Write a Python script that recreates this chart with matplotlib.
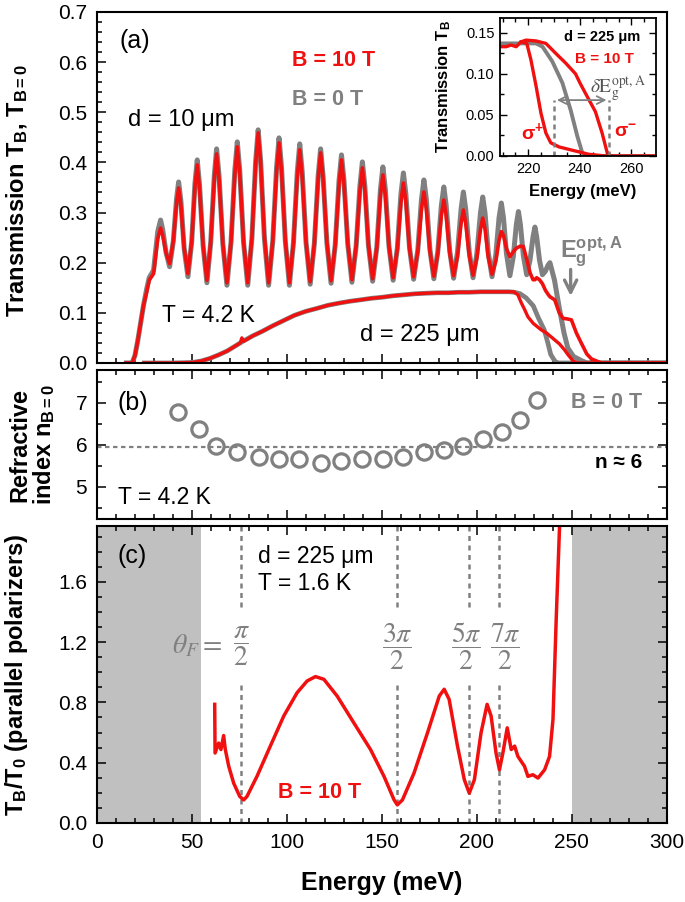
import numpy as np
import matplotlib
matplotlib.use('Agg')
import matplotlib.pyplot as plt
from matplotlib.ticker import MultipleLocator, FormatStrFormatter

plt.rcParams['font.family'] = ['Liberation Sans', 'DejaVu Sans']
plt.rcParams['mathtext.fontset'] = 'custom'
plt.rcParams['mathtext.rm'] = 'Liberation Sans'
plt.rcParams['mathtext.it'] = 'Liberation Sans:italic'
plt.rcParams['mathtext.bf'] = 'Liberation Sans:bold'

RED = '#f01010'
GREY = '#808080'
SHADE = '#c0c0c0'

# ---- (a) d = 10 um, Fabry-Perot fringes (energy in meV), one row per fringe ----
thin_e = [15.5, 18.5, 20.0, 21.5, 23.0, 24.5, 26.2, 27.5, 29.8, 32.0,
          33.5, 34.6, 36.4, 38.25, 40.2, 41.9,
          43.0, 44.2, 45.9, 47.9, 49.9, 51.6,
          52.8, 54.0, 55.9, 57.9, 59.9, 61.8,
          63.0, 64.3, 66.3, 68.45, 70.6, 72.6,
          73.9, 75.2, 77.2, 79.4, 81.6, 83.6,
          84.9, 86.2, 88.2, 90.4, 92.6, 94.6,
          95.9, 97.2, 99.2, 101.35, 103.5, 105.5,
          106.8, 108.1, 110.1, 112.3, 114.5, 116.5,
          117.8, 119.1, 121.1, 123.3, 125.5, 127.5,
          128.8, 130.1, 132.1, 134.3, 136.5, 138.5,
          139.8, 141.1, 143.0, 145.2, 147.4, 149.3,
          150.6, 151.9, 153.8, 156.0, 158.2, 160.1,
          161.4, 162.7, 164.6, 166.8, 169.0, 170.9,
          172.2, 173.5, 175.35, 177.45, 179.55, 181.4,
          182.7, 183.9, 185.8, 187.85, 189.9, 191.8,
          193.0, 194.2, 196.1, 198.1, 200.1, 202.0,
          203.2, 204.4, 206.1, 208.1, 210.1, 211.8,
          213.0, 214.1, 215.7, 217.5, 219.3, 220.9,
          222.0, 223.0, 224.6, 226.35, 228.1, 229.7,
          230.7, 231.6, 233.1, 234.65, 236.2, 237.6,
          238.6]
thin_b0 = [0.0, 0.0, 0.015, 0.045, 0.08, 0.115, 0.148, 0.17, 0.185, 0.262,
           0.285, 0.266, 0.220, 0.192, 0.243, 0.327,
           0.361, 0.323, 0.229, 0.172, 0.242, 0.358,
           0.405, 0.356, 0.234, 0.160, 0.240, 0.374,
           0.427, 0.373, 0.237, 0.155, 0.241, 0.384,
           0.441, 0.384, 0.241, 0.155, 0.248, 0.403,
           0.465, 0.403, 0.248, 0.155, 0.243, 0.390,
           0.449, 0.390, 0.243, 0.155, 0.240, 0.381,
           0.437, 0.381, 0.241, 0.157, 0.238, 0.373,
           0.427, 0.373, 0.239, 0.159, 0.236, 0.364,
           0.415, 0.364, 0.237, 0.161, 0.233, 0.353,
           0.401, 0.353, 0.234, 0.163, 0.231, 0.345,
           0.391, 0.346, 0.233, 0.165, 0.229, 0.336,
           0.379, 0.337, 0.231, 0.167, 0.226, 0.325,
           0.365, 0.326, 0.227, 0.168, 0.223, 0.314,
           0.351, 0.315, 0.224, 0.169, 0.221, 0.307,
           0.341, 0.307, 0.221, 0.170, 0.218, 0.299,
           0.331, 0.299, 0.220, 0.172, 0.216, 0.290,
           0.319, 0.290, 0.218, 0.174, 0.212, 0.276,
           0.302, 0.277, 0.214, 0.176, 0.205, 0.252,
           0.271, 0.252, 0.205, 0.176, 0.183, 0.195,
           0.200]
thin_b10 = [0.0, 0.0, 0.015, 0.045, 0.08, 0.115, 0.142, 0.165, 0.178, 0.248,
            0.269, 0.255, 0.219, 0.198, 0.243, 0.319,
            0.349, 0.315, 0.229, 0.178, 0.243, 0.352,
            0.395, 0.349, 0.234, 0.165, 0.241, 0.367,
            0.417, 0.366, 0.237, 0.160, 0.241, 0.377,
            0.431, 0.377, 0.241, 0.160, 0.250, 0.399,
            0.459, 0.399, 0.250, 0.160, 0.244, 0.383,
            0.439, 0.383, 0.244, 0.160, 0.240, 0.372,
            0.425, 0.372, 0.241, 0.162, 0.239, 0.368,
            0.419, 0.368, 0.241, 0.164, 0.236, 0.357,
            0.405, 0.357, 0.238, 0.166, 0.233, 0.344,
            0.389, 0.345, 0.234, 0.168, 0.230, 0.334,
            0.375, 0.334, 0.232, 0.170, 0.227, 0.321,
            0.359, 0.322, 0.228, 0.172, 0.223, 0.307,
            0.341, 0.307, 0.223, 0.173, 0.219, 0.295,
            0.325, 0.295, 0.219, 0.174, 0.213, 0.279,
            0.305, 0.279, 0.214, 0.175, 0.209, 0.266,
            0.289, 0.267, 0.211, 0.177, 0.203, 0.245,
            0.262, 0.255, 0.228, 0.212, 0.222, 0.229,
            0.231, 0.233, 0.232, 0.207, 0.180, 0.166,
            0.166, 0.170, 0.166, 0.158, 0.145, 0.137,
            0.132]
thin_b0_tail_e = [241.0, 243.5, 246.0, 248.0, 251.0, 255.0, 258.0, 300.0]
thin_b0_tail = [0.165, 0.11, 0.06, 0.03, 0.013, 0.005, 0.0, 0.0]
thin_b10_tail_e = [241.1, 243.5, 245.5, 247.5, 249.9, 252.5, 255.2, 258.0, 260.5, 265.7, 300.0]
thin_b10_tail = [0.126, 0.10, 0.089, 0.088, 0.086, 0.06, 0.039, 0.018, 0.008, 0.0, 0.0]

# ---- (a) d = 225 um ----
thick_e = [24.9, 40.0, 50.2, 55.0, 59.4, 64.0, 68.6, 72.5, 75.5, 76.3,
           77.2, 82.0, 87.0, 92.5, 98.5, 104.0, 110.0, 116.0, 121.6, 127.0,
           133.1, 139.0, 144.6, 150.0, 156.1, 162.0, 167.6, 173.0, 179.1, 185.0,
           190.6, 196.0, 202.2, 208.0, 212.0, 217.1]
thick_b0 = [0.0, 0.0, 0.001, 0.004, 0.009, 0.016, 0.024, 0.033, 0.040, 0.042,
            0.044, 0.054, 0.063, 0.074, 0.085, 0.095, 0.103, 0.109, 0.115, 0.119,
            0.123, 0.126, 0.129, 0.131, 0.134, 0.136, 0.138, 0.139, 0.140, 0.140,
            0.141, 0.141, 0.142, 0.142, 0.142, 0.142]
thick_b10 = [0.0, 0.0, 0.001, 0.004, 0.009, 0.016, 0.024, 0.033, 0.040, 0.050,
             0.043, 0.054, 0.063, 0.074, 0.085, 0.095, 0.103, 0.109, 0.115, 0.119,
             0.123, 0.126, 0.129, 0.131, 0.134, 0.136, 0.138, 0.139, 0.140, 0.140,
             0.141, 0.141, 0.142, 0.142, 0.142, 0.142]
thick_b0_tail_e = [220.0, 222.9, 226.0, 229.8, 232.5, 235.6, 237.5, 239.0, 241.3, 243.0, 300.0]
thick_b0_tail = [0.141, 0.138, 0.130, 0.114, 0.090, 0.066, 0.040, 0.017, 0.003, 0.0, 0.0]
thick_b10_tail_e = [219.5, 221.7, 223.5, 225.2, 227.0, 229.8, 234.0, 236.7, 241.1, 243.6,
                    246.3, 248.2, 250.8, 253.0, 300.0]
thick_b10_tail = [0.142, 0.136, 0.120, 0.107, 0.092, 0.079, 0.066, 0.060, 0.046, 0.038,
                  0.026, 0.016, 0.004, 0.0, 0.0]

# ---- inset: d = 225 um near the gap ----
ins_b0_e = [209.0, 216.5, 223.0, 225.5, 229.3, 233.2, 236.4, 239.0, 240.9, 242.5, 270.0]
ins_b0 = [0.137, 0.137, 0.137, 0.133, 0.115, 0.089, 0.056, 0.024, 0.004, 0.0, 0.0]
ins_sp_e = [209.0, 211.4, 213.3, 215.3, 217.2, 219.4, 221.0, 223.0, 224.9, 226.8,
            228.7, 231.9, 237.0, 243.5, 249.9, 270.0]
ins_sp = [0.133, 0.133, 0.135, 0.133, 0.139, 0.137, 0.117, 0.085, 0.052, 0.028,
          0.016, 0.011, 0.007, 0.002, 0.0, 0.0]
ins_sm_e = [217.2, 219.1, 223.0, 226.8, 230.6, 234.5, 238.3, 240.0, 242.2, 246.0,
            248.6, 250.5, 252.0]
ins_sm = [0.139, 0.141, 0.140, 0.137, 0.125, 0.113, 0.100, 0.089, 0.076, 0.054,
          0.028, 0.005, 0.0]
gap_e = [230.0, 251.4]

# ---- (b) refractive index ----
n_e = [42.8, 53.7, 62.9, 74.0, 85.2, 95.8, 106.6, 118.2, 128.5, 139.5,
       150.4, 161.2, 172.3, 182.6, 193.0, 203.4, 213.3, 223.0, 231.8]
n_val = [6.78, 6.37, 5.96, 5.82, 5.70, 5.65, 5.65, 5.57, 5.62, 5.65,
         5.66, 5.71, 5.83, 5.88, 5.98, 6.13, 6.31, 6.59, 7.06]
n_mean = 5.95

# ---- (c) Faraday rotation, parallel polarizers ----
far_e = [62.0, 62.2, 64.1, 65.3, 66.7, 67.6, 69.4, 72.0, 75.2, 77.3,
         79.0, 84.3, 91.3, 98.4, 105.4, 110.7, 115.1, 119.5, 126.5, 135.3,
         144.1, 151.2, 156.5, 158.2, 160.9, 167.0, 174.1, 180.3, 182.9, 185.5,
         189.9, 193.5, 196.1, 198.8, 202.3, 205.5, 207.6, 210.2, 212.0, 213.8,
         216.1, 218.2, 220.0, 221.7, 225.2, 227.0, 229.6, 232.3, 235.8, 238.4,
         240.2, 241.9, 243.7, 244.3]
far_t = [0.787, 0.464, 0.53, 0.487, 0.58, 0.487, 0.376, 0.264, 0.176, 0.153,
         0.176, 0.31, 0.51, 0.71, 0.864, 0.942, 0.971, 0.953, 0.842, 0.664,
         0.487, 0.309, 0.153, 0.12, 0.153, 0.331, 0.598, 0.842, 0.887, 0.82,
         0.51, 0.287, 0.198, 0.287, 0.598, 0.787, 0.71, 0.464, 0.353, 0.464,
         0.631, 0.487, 0.51, 0.442, 0.376, 0.309, 0.32, 0.298, 0.353, 0.442,
         0.687, 1.353, 1.98, 2.3]
theta_e = [76.1, 158.0, 195.8, 211.7]
theta_lbl = [r'$\dfrac{\pi}{2}$', r'$\dfrac{3\pi}{2}$', r'$\dfrac{5\pi}{2}$', r'$\dfrac{7\pi}{2}$']
theta_shift = [0.0, 0.0, -1.3, 3.3]
shade = [(0, 55), (250, 300)]


def style(ax, top, right, size=15):
    for s in ax.spines.values():
        s.set_linewidth(1.5)
    ax.tick_params(which='both', direction='in', top=top, right=right,
                   width=1.1, labelsize=size, pad=7)
    ax.tick_params(which='major', length=6.5)
    ax.tick_params(which='minor', length=3.5)


fig = plt.figure(figsize=(6.85, 9.02), dpi=100)
ax_a = fig.add_axes([0.1416, 0.5976, 0.8314, 0.3891])
ax_b = fig.add_axes([0.1416, 0.4246, 0.8314, 0.1652])
ax_c = fig.add_axes([0.1416, 0.0876, 0.8314, 0.3293])
ins = fig.add_axes([0.7299, 0.8271, 0.2277, 0.153])

# ---------- (a) ----------
ax_a.plot(thick_e + thick_b0_tail_e, thick_b0 + thick_b0_tail, color=GREY, lw=3.4)
ax_a.plot(thin_e + thin_b0_tail_e, thin_b0 + thin_b0_tail, color=GREY, lw=3.6)
ax_a.plot(thick_e + thick_b10_tail_e, thick_b10 + thick_b10_tail, color=RED, lw=2.4)
ax_a.plot(thin_e + thin_b10_tail_e, thin_b10 + thin_b10_tail, color=RED, lw=2.6)
ax_a.set_xlim(0, 300)
ax_a.set_ylim(0, 0.7)
ax_a.xaxis.set_major_locator(MultipleLocator(50))
ax_a.xaxis.set_minor_locator(MultipleLocator(10))
ax_a.yaxis.set_major_locator(MultipleLocator(0.1))
ax_a.yaxis.set_minor_locator(MultipleLocator(0.02))
ax_a.yaxis.set_major_formatter(FormatStrFormatter('%.1f'))
style(ax_a, False, False)
ax_a.tick_params(labelbottom=False)
ax_a.set_ylabel(r'Transmission T$_{\mathbf{B}}$, T$_{\mathbf{B=0}}$', fontsize=17, fontweight='bold')
ax_a.yaxis.set_label_coords(-0.118, 0.49)

ax_a.text(12, 0.642, '(a)', fontsize=18, va='center')
ax_a.text(102.7, 0.604, 'B = 10 T', fontsize=15.5, fontweight='bold', color=RED, va='center')
ax_a.text(102.7, 0.525, 'B = 0 T', fontsize=15.5, fontweight='bold', color=GREY, va='center')
ax_a.text(16.3, 0.485, 'd = 10 μm', fontsize=17, va='center')
ax_a.text(34.2, 0.094, 'T = 4.2 K', fontsize=16.5, va='center')
ax_a.text(138.6, 0.056, 'd = 225 μm', fontsize=17, va='center')
ax_a.text(244.0, 0.211, r'$\mathbf{E}_\mathbf{g}^\mathbf{opt,A}$', fontsize=17, color=GREY,
          va='baseline')
ax_a.annotate('', xy=(249.5, 0.128), xytext=(249.5, 0.192),
              arrowprops=dict(arrowstyle='->', color=GREY, lw=2.4, mutation_scale=22))

# ---------- inset ----------
ins.plot(ins_b0_e, ins_b0, color=GREY, lw=2.8)
ins.plot(ins_sp_e, ins_sp, color=RED, lw=2.4)
ins.plot(ins_sm_e, ins_sm, color=RED, lw=2.4)
ins.vlines(gap_e, 0, 0.068, color=GREY, lw=1.8, linestyles=(0, (2, 1.6)))
ins.annotate('', xy=(gap_e[0], 0.068), xytext=(gap_e[1], 0.068),
             arrowprops=dict(arrowstyle='<->', color=GREY, lw=1.3, mutation_scale=14))
ins.set_xlim(209, 269.5)
ins.set_ylim(0, 0.168)
ins.xaxis.set_major_locator(MultipleLocator(20))
ins.xaxis.set_minor_locator(MultipleLocator(5))
ins.yaxis.set_major_locator(MultipleLocator(0.05))
ins.yaxis.set_minor_locator(MultipleLocator(0.025))
ins.yaxis.set_major_formatter(FormatStrFormatter('%.2f'))
for s in ins.spines.values():
    s.set_linewidth(1.3)
ins.tick_params(which='both', direction='in', top=True, right=True, width=1.0,
                labelsize=10.5, pad=4)
ins.tick_params(which='major', length=5)
ins.tick_params(which='minor', length=3)
ins.set_xlabel('Energy (meV)', fontsize=12, fontweight='bold')
ins.set_ylabel(r'Transmission T$_{\mathbf{B}}$', fontsize=12, fontweight='bold')
ins.yaxis.set_label_coords(-0.30, 0.5)
ins.xaxis.set_label_coords(0.53, -0.2)
ins.text(263.5, 0.145, 'd = 225 μm', fontsize=10.5, fontweight='bold', ha='right', va='center')
ins.text(260.8, 0.118, 'B = 10 T', fontsize=11, fontweight='bold', color=RED, ha='right', va='center')
ins.text(244.0, 0.077, r'$\delta\mathrm{E}_\mathrm{g}^\mathrm{opt,A}$', fontsize=14, color='#555555',
         math_fontfamily='stix', va='baseline')
ins.text(217.3, 0.029, r'σ$^{\mathbf{+}}$', fontsize=14, fontweight='bold', color=RED, va='center')
ins.text(253.2, 0.029, r'σ$^{\mathbf{-}}$', fontsize=14, fontweight='bold', color=RED, va='center')

# ---------- (b) ----------
ax_b.axhline(n_mean, color=GREY, lw=1.6, ls=(0, (2, 1.6)))
ax_b.plot(n_e, n_val, 'o', ms=11, mfc='none', mec=GREY, mew=2.3)
ax_b.set_xlim(0, 300)
ax_b.set_ylim(4.23, 7.78)
ax_b.xaxis.set_major_locator(MultipleLocator(50))
ax_b.xaxis.set_minor_locator(MultipleLocator(10))
ax_b.yaxis.set_major_locator(MultipleLocator(1))
ax_b.yaxis.set_minor_locator(MultipleLocator(0.5))
style(ax_b, True, True)
ax_b.tick_params(labelbottom=False)
ax_b.set_ylabel('Refractive\n' + r'index n$_{\mathbf{B=0}}$', fontsize=17, fontweight='bold',
                linespacing=1.0)
ax_b.yaxis.set_label_coords(-0.07, 0.5)
ax_b.text(11, 7.0, '(b)', fontsize=18, va='center')
ax_b.text(287, 7.0, 'B = 0 T', fontsize=15.5, fontweight='bold', color=GREY, ha='right', va='center')
ax_b.text(287, 5.57, 'n ≈ 6', fontsize=15, fontweight='bold', ha='right', va='center')
ax_b.text(11, 4.75, 'T = 4.2 K', fontsize=16.5, va='center')

# ---------- (c) ----------
for lo, hi in shade:
    ax_c.axvspan(lo, hi, color=SHADE, lw=0, zorder=0)
ax_c.vlines(theta_e, 0, 0.93, color=GREY, lw=1.8, linestyles=(0, (2, 1.8)))
ax_c.vlines(theta_e, 1.43, 2.0, color=GREY, lw=1.8, linestyles=(0, (2, 1.8)))
ax_c.plot(far_e, far_t, color=RED, lw=2.5)
for e, lbl, dx in zip(theta_e, theta_lbl, theta_shift):
    ax_c.text(e + dx, 1.17, lbl, fontsize=20, color=GREY, math_fontfamily='stix',
              ha='center', va='center')
ax_c.text(66.0, 1.17, r'$\theta_F=$', fontsize=20, color=GREY, math_fontfamily='stix',
          ha='right', va='center')
ax_c.set_xlim(0, 300)
ax_c.set_ylim(0, 1.97)
ax_c.xaxis.set_major_locator(MultipleLocator(50))
ax_c.xaxis.set_minor_locator(MultipleLocator(10))
ax_c.yaxis.set_major_locator(MultipleLocator(0.4))
ax_c.yaxis.set_minor_locator(MultipleLocator(0.1))
ax_c.yaxis.set_major_formatter(FormatStrFormatter('%.1f'))
style(ax_c, True, True)
ax_c.set_ylabel(r'T$_{\mathbf{B}}$/T$_{\mathbf{0}}$ (parallel polarizers)', fontsize=17,
                fontweight='bold')
ax_c.yaxis.set_label_coords(-0.118, 0.5)
ax_c.set_xlabel('Energy (meV)', fontsize=18, fontweight='bold', labelpad=14)
ax_c.text(11, 1.77, '(c)', fontsize=18, va='center')
ax_c.text(84.8, 1.77, 'd = 225 μm', fontsize=16.5, va='center')
ax_c.text(84.8, 1.59, 'T = 1.6 K', fontsize=16.5, va='center')
ax_c.text(95.4, 0.2, 'B = 10 T', fontsize=15.5, fontweight='bold', color=RED, va='center')

fig.savefig('out.png', dpi=100)
